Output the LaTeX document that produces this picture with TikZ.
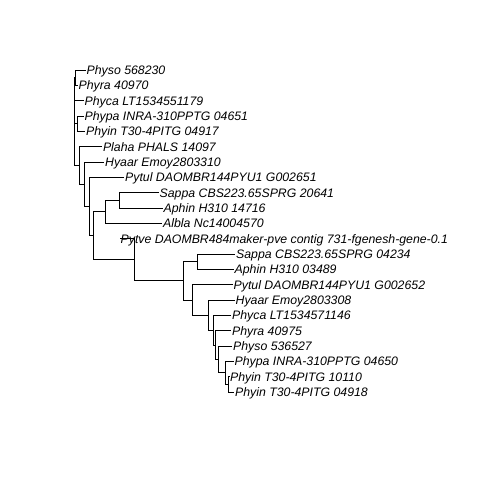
\documentclass[tikz,border=0pt]{standalone}
\usepackage{fontspec}
\setmainfont{Liberation Sans}
\begin{document}
\begin{tikzpicture}[x=1pt,y=-1pt,
  edge/.style={draw=black,line width=0.7pt},
  tiplabel/.style={anchor=base west,inner sep=0pt,xshift=1pt,yshift=-4.4pt,font=\fontsize{12.3}{14}\selectfont\itshape}]
\fill[white] (0,0) rectangle (480,480);
\useasboundingbox (0,0) rectangle (480,480);
% tip coordinates
\coordinate (t1) at (85.5,70);
\coordinate (t2) at (77.5,85.333);
\coordinate (t3) at (83.5,100.667);
\coordinate (t4) at (83.5,116);
\coordinate (t5) at (85,131.333);
\coordinate (t6) at (101.8,146.667);
\coordinate (t7) at (104,162);
\coordinate (t8) at (124,177.333);
\coordinate (t9) at (158.5,192.667);
\coordinate (t10) at (162.5,208);
\coordinate (t11) at (162,223.333);
\coordinate (t12) at (119.5,238.667);
\coordinate (t13) at (235,254);
\coordinate (t14) at (233.5,269.333);
\coordinate (t15) at (232.5,284.667);
\coordinate (t16) at (234.5,300);
\coordinate (t17) at (231,315.333);
\coordinate (t18) at (231,330.667);
\coordinate (t19) at (232,346);
\coordinate (t20) at (233.5,361.333);
\coordinate (t21) at (229,376.667);
\coordinate (t22) at (234,392);
% internal nodes
\coordinate (root) at (74,120);
\coordinate (nA) at (75,77.667);
\coordinate (nB) at (77.5,123.667);
\coordinate (nC) at (79.3,165.472);
\coordinate (nD) at (84,184.278);
\coordinate (nE) at (89.3,206.555);
\coordinate (nF) at (93.3,235.777);
\coordinate (nG) at (105.5,211.833);
\coordinate (nH) at (119.5,200.333);
\coordinate (n134) at (134,259.720);
\coordinate (n183) at (183.3,280.773);
\coordinate (n197) at (197.5,261.667);
\coordinate (n192) at (192.7,299.880);
\coordinate (n208) at (208.3,315.094);
\coordinate (n213) at (213.3,330.188);
\coordinate (n215) at (215.7,345.042);
\coordinate (n218) at (218.3,359.417);
\coordinate (n225) at (225,372.833);
\coordinate (n229) at (228.5,384.333);
% edges
\draw[edge] (root) |- (nA); \draw[edge] (root) |- (t3);
\draw[edge] (root) |- (nB); \draw[edge] (root) |- (nC);
\draw[edge] (nA) |- (t1); \draw[edge] (nA) |- (t2);
\draw[edge] (nB) |- (t4); \draw[edge] (nB) |- (t5);
\draw[edge] (nC) |- (t6); \draw[edge] (nC) |- (nD);
\draw[edge] (nD) |- (t7); \draw[edge] (nD) |- (nE);
\draw[edge] (nE) |- (t8); \draw[edge] (nE) |- (nF);
\draw[edge] (nF) |- (nG); \draw[edge] (nF) |- (n134);
\draw[edge] (nG) |- (nH); \draw[edge] (nG) |- (t11);
\draw[edge] (nH) |- (t9); \draw[edge] (nH) |- (t10);
\draw[edge] (n134) |- (t12); \draw[edge] (n134) |- (n183);
\draw[edge] (n183) |- (n197); \draw[edge] (n183) |- (n192);
\draw[edge] (n197) |- (t13); \draw[edge] (n197) |- (t14);
\draw[edge] (n192) |- (t15); \draw[edge] (n192) |- (n208);
\draw[edge] (n208) |- (t16); \draw[edge] (n208) |- (n213);
\draw[edge] (n213) |- (t17); \draw[edge] (n213) |- (n215);
\draw[edge] (n215) |- (t18); \draw[edge] (n215) |- (n218);
\draw[edge] (n218) |- (t19); \draw[edge] (n218) |- (n225);
\draw[edge] (n225) |- (t20); \draw[edge] (n225) |- (n229);
\draw[edge] (n229) |- (t21); \draw[edge] (n229) |- (t22);
% labels
\node[tiplabel] (l1) at (t1) {Physo 568230};
\node[tiplabel] (l2) at (t2) {Phyra 40970};
\node[tiplabel] (l3) at (t3) {Phyca LT1534551179};
\node[tiplabel] (l4) at (t4) {Phypa INRA-310PPTG 04651};
\node[tiplabel] (l5) at (t5) {Phyin T30-4PITG 04917};
\node[tiplabel] (l6) at (t6) {Plaha PHALS 14097};
\node[tiplabel] (l7) at (t7) {Hyaar Emoy2803310};
\node[tiplabel] (l8) at (t8) {Pytul DAOMBR144PYU1 G002651};
\node[tiplabel] (l9) at (t9) {Sappa CBS223.65SPRG 20641};
\node[tiplabel] (l10) at (t10) {Aphin H310 14716};
\node[tiplabel] (l11) at (t11) {Albla Nc14004570};
\node[tiplabel] (l12) at (t12) {Pytve DAOMBR484maker-pve contig 731-fgenesh-gene-0.1};
\node[tiplabel] (l13) at (t13) {Sappa CBS223.65SPRG 04234};
\node[tiplabel] (l14) at (t14) {Aphin H310 03489};
\node[tiplabel] (l15) at (t15) {Pytul DAOMBR144PYU1 G002652};
\node[tiplabel] (l16) at (t16) {Hyaar Emoy2803308};
\node[tiplabel] (l17) at (t17) {Phyca LT1534571146};
\node[tiplabel] (l18) at (t18) {Phyra 40975};
\node[tiplabel] (l19) at (t19) {Physo 536527};
\node[tiplabel] (l20) at (t20) {Phypa INRA-310PPTG 04650};
\node[tiplabel] (l21) at (t21) {Phyin T30-4PITG 10110};
\node[tiplabel] (l22) at (t22) {Phyin T30-4PITG 04918};
\end{tikzpicture}
\end{document}
